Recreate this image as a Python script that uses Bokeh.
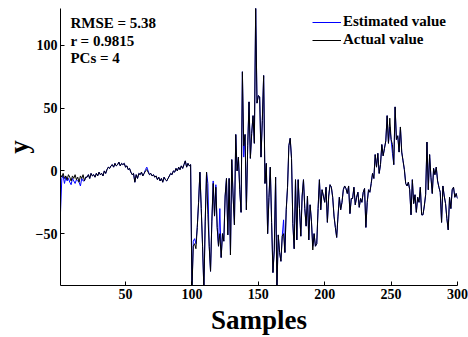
from bokeh.plotting import figure
from bokeh.models import Range1d, FixedTicker, Label, ColumnDataSource, Legend, LegendItem
from bokeh.embed import file_html
from bokeh.resources import INLINE

samples = list(range(1, 301))

actual = [
    -3, -5, -2, -6, -4, -7, -3, -5, -8, -4,
    -6, -3, -7, -5, -9, -4, -6, -3, -8, -5,
    -5, -3, -6, -2, -4, -3, -5, -2, -4, -1,
    -3, -2, -4, 0, -2, 1, 3, 2, 4, 5,
    3, 6, 4, 5, 7, 4, 6, 5, 6, 3,
    4, 1, 2, -1, -3, -2, -9, -3, -6, -2,
    -3, -1, -4, -2, 0, 1, -1, -3, -2, -4,
    -3, -5, -4, -7, -5, -8, -6, -9, -5, -7,
    -8, -6, -4, -2, -3, 0, -1, 2, 0, 3,
    1, 4, 2, 5, 8, 3, 6, 4, 5, -95,
    -60, -58, -62, -45, -25, -1, -30, -60, -95, -40,
    -1, -35, -60, -80, -40, -10, -36, -13, -45, -60,
    -50, -69, -50, -56, -20, -6, -51, -6, -67, 9,
    -20, -43, 29, 0, 11, -15, -33, 79, 20, 29,
    -31, 20, 55, 10, 30, 44, 22, 130, 54, 60,
    59, 11, 40, 76, -10, 6, -50, -21, 3, -41,
    -81, -63, -5, -95, -51, -65, -72, -52, -50, -65,
    -31, -13, 20, 26, 10, -42, -62, -7, -55, -7,
    -30, -52, -20, -7, -30, -44, -20, -55, -27, -40,
    -63, -50, -60, -58, -30, -7, -31, -15, -20, -25,
    -13, -41, -20, -11, -13, -21, -36, -45, -53, -36,
    -21, -31, -25, -15, -12, -14, -18, -12, -34, -22,
    -22, -13, -27, -21, -17, -29, -22, -25, -17, -14,
    -45, -25, -15, -17, -10, -2, -6, 13, 3, 14,
    -2, 5, 21, 12, 18, 24, 44, 22, 42, 25,
    21, 5, 51, 25, 28, 15, 35, 15, 8, 1,
    -10, -12, -9, -15, -35, -7, -26, -19, -33, -21,
    -25, -13, -35, -35, -28, -19, 23, -15, 13, -5,
    -18, 2, -3, 3, -8, -13, -17, -41, -12, -20,
    -26, -38, -47, -21, -30, -15, -13, -21, -18, -22,
]

estimated = [
    -33, -6, -4, -10, -5, -8, -6, -9, -11, -6,
    -8, -10, -7, -8, -9, -12, -6, -8, -8, -5,
    -5, -3, -6, -2, -4, -3, -5, -2, -4, -1,
    -3, -2, -4, 0, -2, 1, 3, 2, 4, 5,
    3, 6, 4, 5, 7, 4, 6, 5, 6, 3,
    4, 1, 2, -1, -3, -2, -9, -3, -6, -2,
    -3, -1, -4, -2, 1, 3, 0, -3, -2, -4,
    -3, -5, -4, -7, -5, -8, -6, -9, -5, -7,
    -8, -6, -4, -2, -3, 0, -1, 2, 0, 3,
    1, 4, 2, 5, 8, 3, 6, 4, 5, -95,
    -56, -54, -58, -45, -25, -1, -30, -60, -95, -40,
    -1, -10, -60, -80, -40, -8, -36, -11, -45, -60,
    -30, -69, -50, -56, -20, -6, -51, -6, -67, 9,
    -20, -43, 29, 0, 11, -15, -33, 79, 11, 29,
    -31, 20, 55, 10, 30, 44, 22, 130, 54, 60,
    59, 11, 40, 76, -10, 6, -50, -21, 3, -41,
    -81, -63, -5, -95, -51, -65, -72, -52, -39, -65,
    -31, -13, 20, 26, 10, -42, -62, -7, -55, -7,
    -30, -52, -20, -7, -30, -44, -20, -55, -27, -40,
    -60, -50, -60, -58, -30, -7, -31, -15, -20, -25,
    -13, -41, -20, -11, -13, -21, -36, -45, -53, -36,
    -21, -31, -25, -15, -12, -14, -18, -12, -34, -22,
    -22, -13, -27, -21, -17, -29, -22, -25, -17, -14,
    -45, -25, -15, -17, -10, -2, -6, 13, 3, 14,
    -2, 5, 21, 12, 18, 24, 44, 22, 35, 25,
    14, 5, 51, 25, 28, 15, 35, 15, 8, 1,
    -10, -12, -9, -15, -35, -7, -26, -19, -33, -21,
    -25, -13, -35, -35, -28, -19, 23, -15, 13, -5,
    -18, 2, -3, 3, -8, -13, -17, -41, -12, -20,
    -26, -38, -47, -21, -30, -15, -13, -21, -18, -22,
]

x_ticks = [50, 100, 150, 200, 250, 300]
y_ticks = [-50, 0, 50, 100]
stats_lines = ["RMSE = 5.38", "r = 0.9815", "PCs = 4"]
stats_y = [117.5, 103.2, 89.7]

FONT = "Liberation Serif"

p = figure(width=468, height=337, output_backend="svg", toolbar_location=None,
           x_range=Range1d(1, 300), y_range=Range1d(-91.3, 129.4),
           min_border_left=60, min_border_right=11, min_border_top=8,
           min_border_bottom=51)

src = ColumnDataSource(dict(x=samples, est=estimated, act=actual))
r_est = p.line("x", "est", source=src, line_color="#0000FF", line_width=1)
r_act = p.line("x", "act", source=src, line_color="#000000", line_width=1)

p.grid.visible = False
p.outline_line_color = None
p.background_fill_color = "white"
p.border_fill_color = "white"

for ax in (p.xaxis[0], p.yaxis[0]):
    ax.axis_line_color = "black"
    ax.axis_line_width = 1
    ax.major_tick_in = 4
    ax.major_tick_out = 0
    ax.minor_tick_line_color = None
    ax.major_tick_line_color = "black"
    ax.major_label_text_font = FONT
    ax.major_label_text_font_style = "bold"
    ax.major_label_text_font_size = "14px"
    ax.major_label_text_color = "black"
    ax.axis_label_text_font = FONT
    ax.axis_label_text_font_style = "bold"
    ax.axis_label_text_font_size = "27px"
    ax.axis_label_text_color = "black"
    ax.axis_label_text_line_height = 0.7

p.xaxis.ticker = FixedTicker(ticks=x_ticks)
p.yaxis.ticker = FixedTicker(ticks=y_ticks)
p.yaxis.major_label_overrides = {-50: "\u221250"}
p.xaxis.major_label_standoff = 3
p.yaxis.major_label_standoff = 3
p.xaxis.axis_label = "Samples"
p.yaxis.axis_label = "y"
p.xaxis.axis_label_standoff = 3
p.yaxis.axis_label_standoff = -1

for t, yv in zip(stats_lines, stats_y):
    p.add_layout(Label(x=8.5, y=yv, text=t, text_font=FONT, text_font_style="bold",
                       text_font_size="15px", text_color="black",
                       text_baseline="alphabetic"))

lg = Legend(items=[LegendItem(label="Estimated value", renderers=[r_est]),
                   LegendItem(label="Actual value", renderers=[r_act])],
            location=(252, 236.5))
lg.border_line_color = None
lg.background_fill_alpha = 0
lg.padding = 0
lg.margin = 0
lg.spacing = 0
lg.glyph_width = 29
lg.glyph_height = 18
lg.label_height = 18
lg.label_standoff = 2
lg.label_text_font = FONT
lg.label_text_font_style = "bold"
lg.label_text_font_size = "15px"
lg.label_text_color = "black"
p.add_layout(lg, "center")

open("out.html", "w").write(file_html(p, INLINE))
